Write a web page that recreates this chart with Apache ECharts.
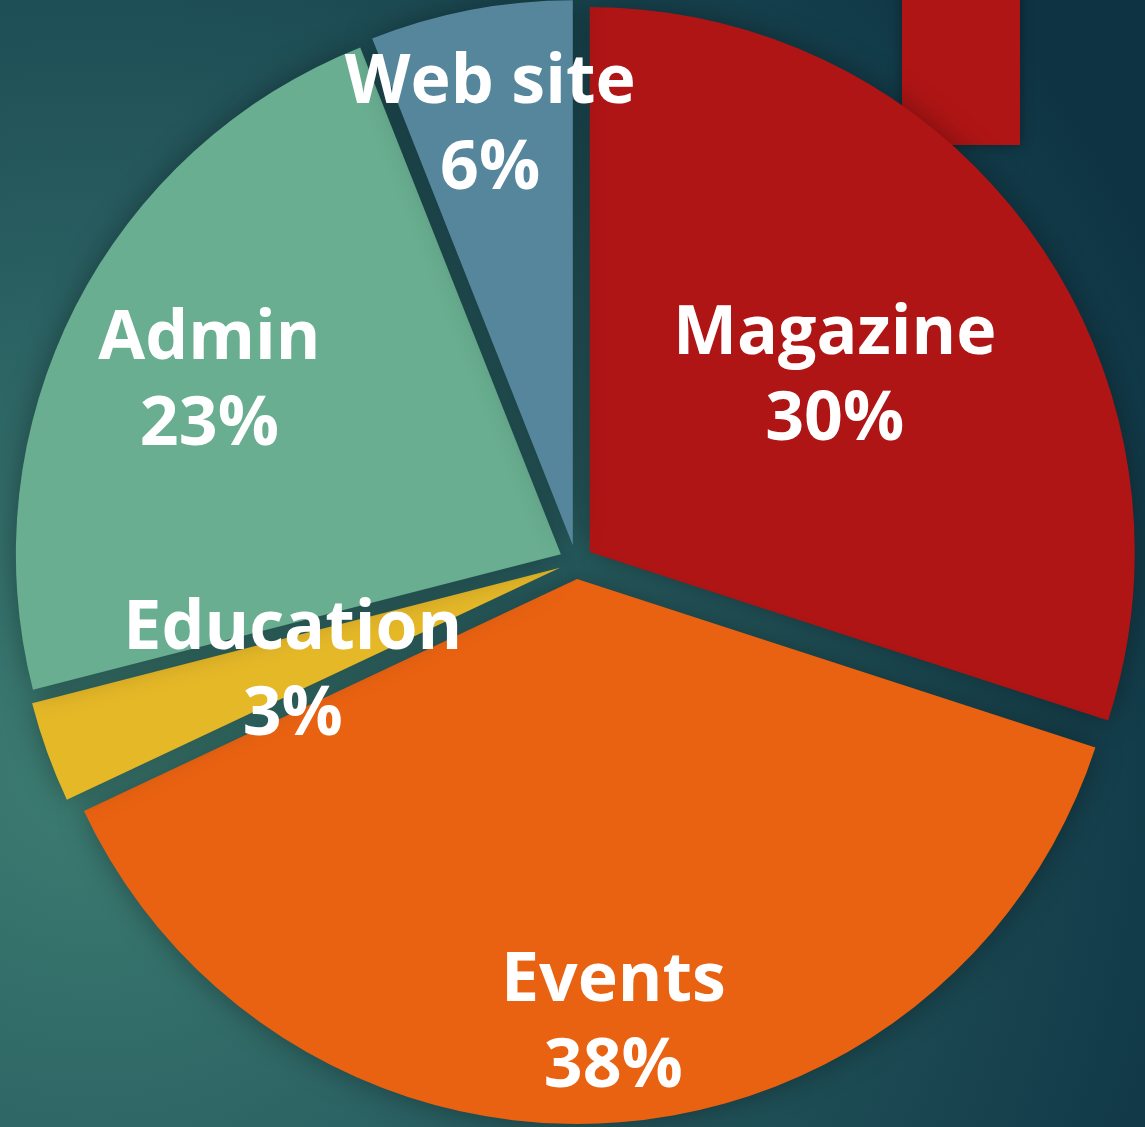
<!DOCTYPE html>
<html>
<head>
<meta charset="utf-8">
<title>Budget split</title>
<script src="https://cdn.jsdelivr.net/npm/echarts@6/dist/echarts.min.js"></script>
<style>
  html, body { margin: 0; padding: 0; background: #1b4a52; }
  #chart { width: 1145px; height: 1127px; }
</style>
</head>
<body>
<div id="chart"></div>
<script>
// slices, clockwise from 12 o'clock
const categories = ['Magazine', 'Events', 'Education', 'Admin', 'Web site'];
const shares = [30, 38, 3, 23, 6];
const sliceColors = ['#b01515', '#e96212', '#e5b828', '#69ae90', '#55869c'];

// nudge each label from the default inside spot (px)
const labelShift = [
  [22, -12],
  [19, 171],
  [-8, 12],
  [-106, -47],
  [-31, -148]
];

const chart = echarts.init(document.getElementById('chart'));

const option = {
  backgroundColor: {
    type: 'radial',
    x: 0.08, y: 0.68, r: 1.05,
    colorStops: [
      { offset: 0, color: '#3d7d72' },
      { offset: 0.4, color: '#2a6062' },
      { offset: 1, color: '#0e3444' }
    ]
  },
  animation: false,
  graphic: [
    {
      type: 'rect',
      shape: { x: 902, y: -10, width: 118, height: 155 },
      style: {
        fill: '#b01515',
        shadowBlur: 12,
        shadowColor: 'rgba(0,0,0,0.4)'
      },
      z: 1
    }
  ],
  series: [
    {
      type: 'pie',
      center: [576, 562],
      radius: 545,
      startAngle: 90,
      clockwise: true,
      selectedMode: 'multiple',
      selectedOffset: 17,
      percentPrecision: 0,
      z: 5,
      itemStyle: {
        borderWidth: 0,
        shadowBlur: 30,
        shadowColor: 'rgba(0,0,0,0.35)'
      },
      emphasis: { disabled: true },
      select: { itemStyle: { borderWidth: 0 } },
      label: {
        show: true,
        position: 'inside',
        formatter: '{b}\n{d}%',
        color: '#ffffff',
        fontFamily: 'Open Sans',
        fontWeight: 'bold',
        fontSize: 68,
        lineHeight: 86,
        align: 'center'
      },
      labelLine: { show: false },
      labelLayout: function (params) {
        const s = labelShift[params.dataIndex];
        return { dx: s[0], dy: s[1] };
      },
      data: categories.map((name, i) => ({
        name: name,
        value: shares[i],
        selected: true,
        itemStyle: { color: sliceColors[i] }
      }))
    }
  ]
};

chart.setOption(option);
window.addEventListener('resize', () => chart.resize());
</script>
</body>
</html>
